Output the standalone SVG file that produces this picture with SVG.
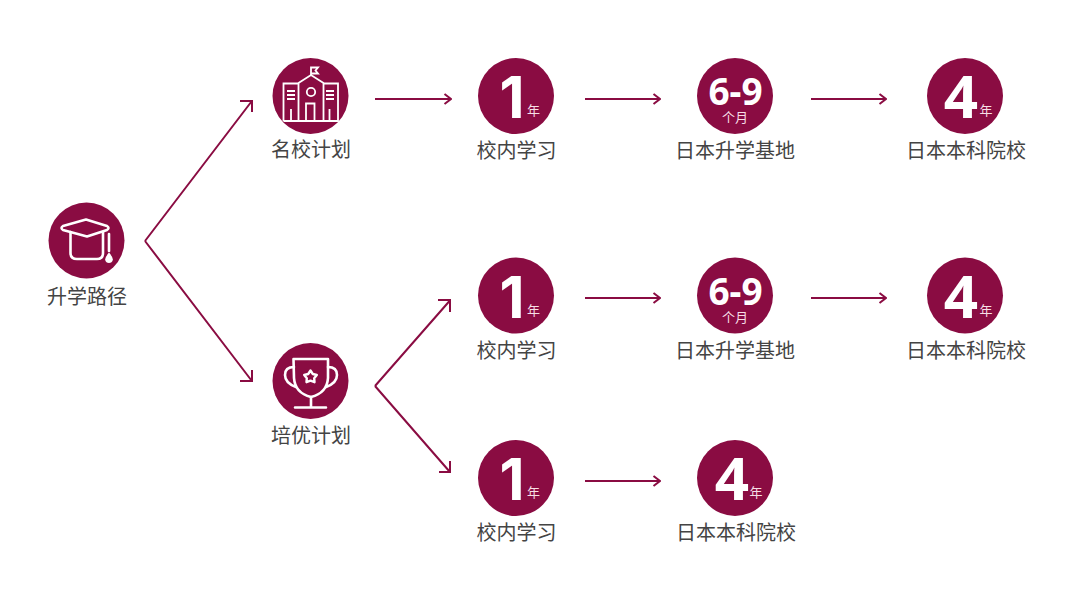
<svg xmlns="http://www.w3.org/2000/svg" width="1080" height="589" viewBox="0 0 1080 589">
<style>
.c{fill:#8a0c42}
.l{font-family:"Noto Sans CJK SC","Noto Sans",sans-serif;font-size:20px;fill:#444;text-anchor:middle}
.b{font-family:"Noto Sans","Noto Sans CJK SC",sans-serif;font-weight:700;fill:#fff;text-anchor:middle}
.o{font-family:Inter,"Noto Sans",sans-serif;font-weight:700;fill:#fff;text-anchor:middle;font-size:58px}
.s{font-family:"Noto Sans CJK SC",sans-serif;font-size:13px;fill:#f6dfe6;text-anchor:middle}
.i{fill:none;stroke:#fff;stroke-width:2.600;stroke-linejoin:round;stroke-linecap:round}
.t{fill:none;stroke:#fff;stroke-width:1.800}
.a{fill:none;stroke:#8a0c42;stroke-width:2}
</style>
<defs>
<marker id="h" viewBox="0 0 10 12" refX="9" refY="6" markerWidth="10" markerHeight="12" markerUnits="userSpaceOnUse" orient="auto"><path d="M2.500 1L9 6L2.500 11" fill="none" stroke="#8a0c42" stroke-width="2"/></marker>
</defs>
<g id="connectors">
<path class="a" d="M145 241L251.500 101.500M240 101H252V112"/>
<path class="a" d="M145 241L251.500 380.500M240 381H252V370"/>
<path class="a" d="M375 99H451" marker-end="url(#h)"/>
<path class="a" d="M585 99H660" marker-end="url(#h)"/>
<path class="a" d="M811 99H886" marker-end="url(#h)"/>
<path class="a" d="M375 386L449.500 301M438 300H450V312"/>
<path class="a" d="M375 386L449.500 471.500M439 472H450V461"/>
<path class="a" d="M585 298H660" marker-end="url(#h)"/>
<path class="a" d="M811 298H886" marker-end="url(#h)"/>
<path class="a" d="M585 481H660" marker-end="url(#h)"/>
</g>
<g id="root"><circle class="c" cx="86.500" cy="240.500" r="38"/>
<path class="i" d="M63 226L86 219.500L107 226Q110 228 107 230L87 236.500L63 230Q60 228 63 226Z"/>
<path class="i" d="M70.500 232V253Q70.500 259 77 259H97Q103 259 103 253V232"/>
<path class="i" d="M109 234V251" stroke-width="2.200"/>
<path d="M109 252.500Q113.500 258 112.800 260A3.900 3.900 0 0 1 105.200 260Q104.500 258 109 252.500Z" fill="#fff"/>
<text class="l" x="87" y="304">升学路径</text></g>
<g id="school"><circle class="c" cx="310.500" cy="96" r="38"/>
<path class="t" d="M298.500 121V83L311 75L323.500 83V121ZM283.500 121V83.500H298.500M323.500 83.500H338V121H283.500M306 121V103.500H314.500V121"/>
<circle class="t" cx="311" cy="92" r="4.200"/>
<path class="t" d="M311 75V66.500M311 67.500H318L315.500 70.500L318 73.500H311M287 91H295M287 95H295M287 99H295M326 91H334M326 95H334M326 99H334M291 109V121M329.500 109V121"/>
<text class="l" x="311" y="157">名校计划</text></g>
<g id="cup"><circle class="c" cx="310.500" cy="381" r="38"/>
<path class="i" d="M293.500 359H328V378Q327 393 311 397Q295 393 294 378Z"/>
<path class="i" d="M294 367Q285 367 285 375Q285 383 296 387M328 367Q337 367 337 375Q337 383 326 387M311 397V407.500M295 407.500H326"/>
<path d="M310.500 370.500L312.800 374L316.800 375L314.200 378.200L314.500 382.200L310.500 380.700L306.500 382.200L306.800 378.200L304.200 375L308.200 374Z" fill="none" stroke="#fff" stroke-width="2.400" stroke-linejoin="round"/>
<text class="l" x="311" y="443">培优计划</text></g>
<g id="a1"><circle class="c" cx="516" cy="96" r="38"/><text class="o" x="512" y="118">1</text><text class="s" x="533.500" y="115">年</text><text class="l" x="516.500" y="158">校内学习</text></g>
<g id="a2"><circle class="c" cx="735" cy="96" r="38"/><text class="b" x="735.500" y="105" font-size="37">6-9</text><text class="s" x="735" y="122">个月</text><text class="l" x="735" y="158">日本升学基地</text></g>
<g id="a3"><circle class="c" cx="965" cy="96" r="38"/><text class="b" x="961" y="118" font-size="60">4</text><text class="s" x="986" y="115">年</text><text class="l" x="966" y="158">日本本科院校</text></g>
<g id="b1"><circle class="c" cx="516" cy="295.500" r="38"/><text class="o" x="512" y="317.500">1</text><text class="s" x="533.500" y="314.500">年</text><text class="l" x="516.500" y="358">校内学习</text></g>
<g id="b2"><circle class="c" cx="735" cy="295.500" r="38"/><text class="b" x="735.500" y="304.500" font-size="37">6-9</text><text class="s" x="735" y="321.500">个月</text><text class="l" x="735" y="358">日本升学基地</text></g>
<g id="b3"><circle class="c" cx="965" cy="295.500" r="38"/><text class="b" x="961" y="317.500" font-size="60">4</text><text class="s" x="986" y="314.500">年</text><text class="l" x="966" y="358">日本本科院校</text></g>
<g id="c1"><circle class="c" cx="516" cy="478" r="38"/><text class="o" x="512" y="500">1</text><text class="s" x="533.500" y="497">年</text><text class="l" x="516.500" y="540">校内学习</text></g>
<g id="c2"><circle class="c" cx="735" cy="478" r="38"/><text class="b" x="732" y="500" font-size="60">4</text><text class="s" x="756" y="497">年</text><text class="l" x="736" y="540">日本本科院校</text></g>
</svg>
